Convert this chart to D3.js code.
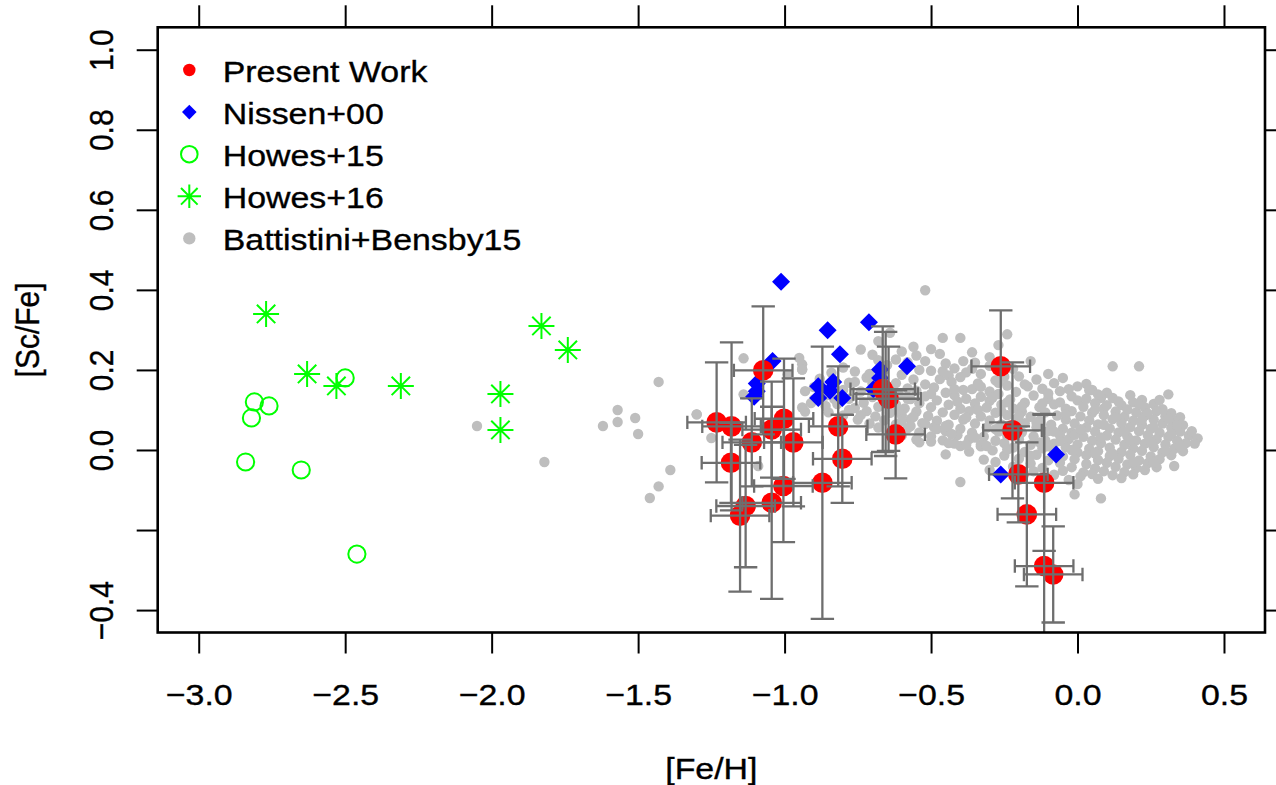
<!DOCTYPE html>
<html><head><meta charset="utf-8">
<script src="https://cdn.jsdelivr.net/npm/d3@7"></script>
<style>
body{margin:0;background:#fff}
svg{display:block}
text{font-family:"Liberation Sans",Arial,Helvetica,sans-serif;fill:#000}
</style></head>
<body><svg id="c" width="1276" height="785"></svg>
<script>
// ---------------- data ----------------
const xTicks = [-3.0, -2.5, -2.0, -1.5, -1.0, -0.5, 0.0, 0.5];
const yTicks = [-0.4, -0.2, 0.0, 0.2, 0.4, 0.6, 0.8, 1.0];
const yTickLabels = ["\u22120.4", "", "0.0", "0.2", "0.4", "0.6", "0.8", "1.0"];
const legendLabels = ["Present Work", "Nissen+00", "Howes+15", "Howes+16", "Battistini+Bensby15"];

const presentFeH   = [-1.232,-1.181,-1.183,-1.112,-1.073,-1.044,-1.002,-0.970,-1.004,-1.044,-1.133,-1.152,-0.871,-0.817,-0.803,-0.665,-0.655,-0.645,-0.621,-0.262,-0.222,-0.202,-0.114,-0.173,-0.114,-0.083];
const presentScFe  = [0.069,0.059,-0.032,0.019,0.199,0.051,0.078,0.019,-0.090,-0.132,-0.140,-0.164,-0.082,0.059,-0.022,0.152,0.140,0.128,0.039,0.209,0.049,-0.061,-0.082,-0.161,-0.290,-0.311];
const presentFeHErr  = [0.10,0.10,0.10,0.10,0.10,0.10,0.10,0.10,0.10,0.10,0.10,0.10,0.10,0.10,0.10,0.11,0.11,0.11,0.10,0.10,0.10,0.10,0.10,0.10,0.10,0.10];
const presentScFeErr = [0.15,0.21,0.10,0.11,0.16,0.12,0.15,0.16,0.14,0.24,0.153,0.19,0.34,0.15,0.11,0.157,0.155,0.13,0.11,0.14,0.17,0.12,0.17,0.18,0.38,0.12];

const nissenFeH  = [-1.012,-1.041,-1.095,-1.095,-1.104,-0.853,-0.811,-0.712,-0.582,-0.885,-0.885,-0.834,-0.845,-0.803,-0.674,-0.674,-0.697,-0.262,-0.073];
const nissenScFe = [0.420,0.222,0.166,0.147,0.133,0.299,0.239,0.319,0.209,0.159,0.130,0.170,0.148,0.130,0.201,0.180,0.152,-0.061,-0.011];

const howes15FeH  = [-2.50,-2.81,-2.76,-2.82,-2.84,-2.65,-2.46];
const howes15ScFe = [0.18,0.12,0.11,0.08,-0.03,-0.05,-0.26];

const howes16FeH  = [-2.77,-2.63,-2.53,-2.31,-1.97,-1.97,-1.83,-1.74];
const howes16ScFe = [0.34,0.19,0.16,0.16,0.14,0.05,0.31,0.25];

// Battistini + Bensby 2015 sample: [Fe/H], [Sc/Fe]
const bensbyPoints = [
[-0.64,0.293],[-0.24,0.289],[-0.52,0.399],
[-0.68,0.272],[-0.46,0.280],[-0.40,0.280],[-0.27,0.262],
[-0.74,0.251],[-0.56,0.258],[-0.60,0.246],[-0.50,0.252],
[-0.47,0.240],[-0.55,0.236],[-0.70,0.238],[-0.36,0.244],
[-0.95,0.230],[-1.14,0.229],[-0.62,0.226],[-0.39,0.222],[-0.16,0.222],[-0.30,0.232],
[-0.94,0.214],[-0.35,0.218],[-0.58,0.219],[-0.45,0.216],[-0.52,0.222],[-0.68,0.224],
[0.12,0.209],[0.21,0.209],[-0.80,0.206],[-0.42,0.204],[-0.30,0.210],[-0.22,0.203],
[-0.94,0.201],[-0.76,0.196],[-0.66,0.200],[-0.50,0.198],[-0.38,0.194],[-0.26,0.199],
[-0.84,0.193],[-0.99,0.189],[-0.60,0.188],[-0.44,0.186],[-0.33,0.190],[-0.20,0.184],[-0.10,0.190],
[-0.88,0.178],[-0.72,0.181],[-0.56,0.176],[-0.47,0.177],[-0.40,0.182],[-0.14,0.176],[-0.05,0.180],[-0.28,0.174],
[-1.43,0.170],[-0.78,0.168],[-0.62,0.167],[-0.52,0.164],[-0.43,0.170],[-0.34,0.166],[-0.08,0.167],[0.03,0.165],[-0.24,0.161],
[-0.90,0.157],[-0.69,0.158],[-0.58,0.154],[-0.49,0.156],[-0.36,0.152],[-0.17,0.159],[0.00,0.159],[-0.12,0.153],[0.05,0.150],
[-0.93,0.147],[-0.74,0.146],[-0.64,0.144],[-0.55,0.148],[-0.45,0.143],[-0.39,0.150],[-0.30,0.146],[-0.21,0.145],[0.04,0.149],[0.10,0.143],[-0.06,0.147],
[-1.14,0.139],[-0.86,0.136],[-0.70,0.135],[-0.61,0.138],[-0.52,0.134],[-0.42,0.137],[-0.33,0.133],[-0.27,0.140],[-0.15,0.136],[-0.02,0.134],[0.31,0.139],[0.08,0.130],[0.18,0.137],
[-0.90,0.126],[-0.78,0.128],[-0.66,0.125],[-0.57,0.127],[-0.48,0.124],[-0.38,0.128],[-0.30,0.123],[-0.23,0.126],[-0.10,0.128],[0.00,0.124],[0.12,0.130],[0.22,0.125],
[-0.91,0.117],[-0.82,0.115],[-0.73,0.118],[-0.62,0.114],[-0.54,0.117],[-0.44,0.113],[-0.35,0.116],[-0.26,0.113],[-0.18,0.118],[-0.08,0.114],[0.06,0.117],[0.19,0.119],[0.15,0.112],[0.26,0.115],
[-0.94,0.106],[-0.76,0.105],[-0.68,0.108],[-0.59,0.104],[-0.50,0.107],[-0.40,0.103],[-0.31,0.106],[-0.22,0.104],[-0.13,0.107],[-0.04,0.103],[0.02,0.108],[0.09,0.104],[0.23,0.106],[0.29,0.102],
[-1.57,0.100],[-0.93,0.096],[-0.85,0.094],[-0.72,0.097],[-0.64,0.093],[-0.55,0.096],[-0.46,0.094],[-0.37,0.097],[-0.28,0.093],[-0.19,0.096],[-0.11,0.094],[-0.02,0.097],[0.05,0.093],[0.13,0.096],[0.20,0.094],[0.27,0.097],[0.32,0.092],
[-1.30,0.089],[-0.80,0.086],[-0.69,0.084],[-0.60,0.087],[-0.51,0.085],[-0.42,0.088],[-0.33,0.084],[-0.24,0.087],[-0.16,0.083],[-0.07,0.086],[0.01,0.084],[0.09,0.087],[0.16,0.083],[0.23,0.086],[0.30,0.084],[0.35,0.082],
[-1.51,0.080],[-0.75,0.076],[-0.66,0.074],[-0.57,0.077],[-0.48,0.073],[-0.39,0.076],[-0.30,0.074],[-0.21,0.077],[-0.13,0.073],[-0.04,0.076],[0.04,0.074],[0.12,0.077],[0.19,0.073],[0.26,0.076],[0.33,0.072],
[-1.57,0.070],[-0.71,0.066],[-0.62,0.064],[-0.53,0.067],[-0.44,0.063],[-0.35,0.066],[-0.26,0.064],[-0.18,0.067],[-0.09,0.063],[-0.01,0.066],[0.07,0.064],[0.15,0.067],[0.22,0.063],[0.29,0.066],[0.36,0.062],
[-2.05,0.060],[-1.62,0.060],[-0.68,0.056],[-0.58,0.054],[-0.49,0.057],[-0.40,0.053],[-0.31,0.056],[-0.23,0.054],[-0.14,0.057],[-0.05,0.053],[0.03,0.056],[0.11,0.054],[0.18,0.057],[0.25,0.053],[0.32,0.056],
[-0.63,0.046],[-0.54,0.044],[-0.45,0.047],[-0.36,0.043],[-0.27,0.046],[-0.19,0.044],[-0.10,0.047],[-0.02,0.043],[0.06,0.046],[0.14,0.044],[0.21,0.047],[0.28,0.043],[0.35,0.046],
[-1.50,0.040],[-0.60,0.036],[-0.50,0.034],[-0.41,0.037],[-0.32,0.033],[-0.24,0.036],[-0.15,0.034],[-0.06,0.037],[0.02,0.033],[0.10,0.036],[0.17,0.034],[0.24,0.037],[0.31,0.033],[0.38,0.036],
[-1.25,0.030],[-0.55,0.026],[-0.46,0.024],[-0.37,0.027],[-0.28,0.023],[-0.20,0.026],[-0.11,0.024],[-0.03,0.027],[0.05,0.023],[0.13,0.026],[0.20,0.024],[0.27,0.027],[0.34,0.023],[0.41,0.029],
[-0.54,0.019],[-0.42,0.016],[-0.33,0.014],[-0.25,0.017],[-0.16,0.013],[-0.08,0.016],[0.00,0.014],[0.08,0.017],[0.16,0.013],[0.23,0.016],[0.30,0.014],[0.37,0.017],
[-0.44,0.017],[-0.33,0.009],[-0.22,0.006],[-0.12,0.004],[-0.04,0.007],[0.04,0.003],[0.11,0.006],[0.19,0.004],[0.26,0.007],[0.33,0.003],[-0.40,0.010],
[-0.37,-0.004],[-0.29,-0.001],[-0.18,-0.005],[-0.08,-0.002],[0.00,-0.006],[0.07,-0.003],[0.15,-0.005],[0.22,-0.002],[0.29,-0.006],[0.36,-0.003],
[-0.45,-0.011],[-0.25,-0.014],[-0.14,-0.012],[-0.05,-0.016],[0.03,-0.013],[0.11,-0.015],[0.18,-0.012],[0.25,-0.016],[0.32,-0.013],
[-0.32,-0.024],[-0.20,-0.022],[-0.10,-0.026],[-0.01,-0.023],[0.07,-0.025],[0.14,-0.022],[0.21,-0.026],[0.28,-0.023],
[-1.82,-0.030],[-0.28,-0.030],[-0.16,-0.034],[-0.06,-0.032],[0.03,-0.035],[0.10,-0.032],[0.17,-0.036],[0.24,-0.033],[0.33,-0.040],
[-0.22,-0.042],[-0.12,-0.045],[-0.02,-0.043],[0.06,-0.046],[0.13,-0.042],[0.20,-0.045],[0.27,-0.043],
[-1.39,-0.050],[-0.30,-0.050],[-0.15,-0.053],[-0.05,-0.052],[0.02,-0.056],[0.09,-0.053],[0.16,-0.055],[0.23,-0.050],
[-0.20,-0.060],[-0.08,-0.062],[0.01,-0.066],[0.05,-0.060],[0.12,-0.063],[0.19,-0.061],
[-0.11,-0.072],[-0.03,-0.075],[0.07,-0.072],[0.15,-0.070],[-0.40,-0.080],[0.00,-0.085],
[-1.43,-0.091],[-0.01,-0.111],[-1.46,-0.120],[0.08,-0.121],[-1.09,-0.040],[-1.30,0.089],[-0.94,0.201],
[-0.41,0.121],[-0.29,0.131],[-0.19,0.109],[-0.06,0.119],[0.03,0.128],[0.10,0.112],[0.17,0.101],[0.24,0.091],[0.31,0.078],[0.34,0.061],
[0.39,0.047],[0.40,0.016],[0.35,0.010],[0.30,-0.002],[0.26,-0.030],[0.19,-0.030],[0.12,-0.009],[0.06,-0.009],[-0.02,0.000],[-0.10,0.009],
[-0.16,-0.014],[-0.24,0.001],[-0.31,0.010],[-0.35,0.031],[-0.43,0.040],[-0.48,0.052],[-0.52,0.065],[-0.56,0.083],[-0.61,0.100],[-0.66,0.116],
[-0.70,0.132],[-0.74,0.087],[-0.78,0.100],[-0.83,0.127],[-0.86,0.110],[-0.80,0.150],[-0.76,0.170],[-0.71,0.190],[-0.65,0.212],[-0.54,0.200],
[-0.46,0.197],[-0.36,0.203],[-0.25,0.183],[-0.18,0.164],[-0.10,0.141],[-0.03,0.152],[0.07,0.139],[0.14,0.121],[0.21,0.114],[0.28,0.125],
[-0.45,0.060],[-0.38,0.081],[-0.34,0.100],[-0.26,0.097],[-0.20,0.085],[-0.14,0.068],[-0.08,0.046],[-0.01,0.038],[0.08,0.031],[0.16,0.047],
[0.22,0.076],[0.26,0.057],[0.13,0.082],[0.06,0.101],[-0.04,0.089],[-0.12,0.116],[-0.24,0.119],[-0.28,0.052],[-0.20,0.036],[-0.13,0.019],
[-0.06,0.022],[0.01,0.052],[0.09,0.063],[0.18,0.025],[0.25,0.020],[0.32,0.040],[-0.38,0.013],[-0.50,0.021],[-0.57,0.060],[-0.60,0.072],
[-0.42,0.152],[-0.33,0.158],[-0.27,0.168],[-0.50,0.140],[-0.58,0.128],[-0.64,0.157],[-0.70,0.166]
];

// ---------------- drawing ----------------
const SX = 1.13;          // horizontal text stretch of the original rendering
const FS = 30;            // font size
const svg = d3.select("#c");

const x = d3.scaleLinear().domain([-3.14, 0.64]).range([157.7, 1265]);
const y = d3.scaleLinear().domain([-0.456, 1.056]).range([632.5, 27.3]);
const [px0, px1] = x.range(), [py1, py0] = y.range();

svg.append("defs").append("clipPath").attr("id", "clip")
  .append("rect").attr("x", px0).attr("y", py0).attr("width", px1 - px0).attr("height", py1 - py0);

const plot = svg.append("g").attr("clip-path", "url(#clip)");

const diamond = s => `M0,${-s}L${s},0L0,${s}L${-s},0Z`;
const star = (a, b) => `M${-a},0H${a}M0,${-a}V${a}M${-b},${-b}L${b},${b}M${-b},${b}L${b},${-b}`;

// Battistini + Bensby (grey)
plot.append("g").selectAll("circle").data(bensbyPoints).join("circle")
  .attr("cx", d => x(d[0])).attr("cy", d => y(d[1])).attr("r", 5.2).attr("fill", "#bebebe");

// Nissen+00
plot.append("g").selectAll("path").data(nissenFeH.map((v, i) => [v, nissenScFe[i]])).join("path")
  .attr("transform", d => `translate(${x(d[0])},${y(d[1])})`).attr("d", diamond(9)).attr("fill", "#0000ff");

// Present work
const present = presentFeH.map((v, i) => ({x: v, y: presentScFe[i], ex: presentFeHErr[i], ey: presentScFeErr[i]}));
plot.append("g").selectAll("circle").data(present).join("circle")
  .attr("cx", d => x(d.x)).attr("cy", d => y(d.y)).attr("r", 10.3).attr("fill", "#ff0000");

// error bars
const eb = plot.append("g").attr("stroke", "#6e6e6e").attr("stroke-width", 2.3).attr("fill", "none");
present.forEach(d => {
  const cx = x(d.x), cy = y(d.y);
  const yt = y(d.y + d.ey), yb = y(d.y - d.ey);
  const xl = x(d.x - d.ex), xr = x(d.x + d.ex);
  const capV = 11.7, capH = 6.7;
  eb.append("path").attr("d",
    `M${cx},${yt}V${yb}M${cx - capV},${yt}H${cx + capV}M${cx - capV},${yb}H${cx + capV}` +
    `M${xl},${cy}H${xr}M${xl},${cy - capH}V${cy + capH}M${xr},${cy - capH}V${cy + capH}`);
});

// Howes+15
plot.append("g").selectAll("circle").data(howes15FeH.map((v, i) => [v, howes15ScFe[i]])).join("circle")
  .attr("cx", d => x(d[0])).attr("cy", d => y(d[1])).attr("r", 8.6)
  .attr("fill", "none").attr("stroke", "#00ff00").attr("stroke-width", 2);

// Howes+16
plot.append("g").selectAll("path").data(howes16FeH.map((v, i) => [v, howes16ScFe[i]])).join("path")
  .attr("transform", d => `translate(${x(d[0])},${y(d[1])})`).attr("d", star(13, 9.2))
  .attr("fill", "none").attr("stroke", "#00ff00").attr("stroke-width", 2);

// ---------------- axes ----------------
const fmt = d3.format(".1f");
const TXT = g => g.attr("font-size", FS).attr("font-family", '"Liberation Sans",Arial,sans-serif')
  .attr("fill", "#000").attr("stroke", "#000").attr("stroke-width", 0.35);
function styleAxis(g) {
  g.select(".domain").remove();
  g.selectAll(".tick line").attr("stroke", "#000").attr("stroke-width", 2);
}
const gb = svg.append("g").attr("transform", `translate(0,${py1})`)
  .call(d3.axisBottom(x).tickValues(xTicks).tickSize(21).tickFormat(fmt));
styleAxis(gb);
gb.selectAll(".tick text").attr("y", 0).attr("dy", 0).call(TXT)
  .attr("transform", `translate(0,${705 - py1}) scale(${SX},1)`);

const gl = svg.append("g").attr("transform", `translate(${px0},0)`)
  .call(d3.axisLeft(y).tickValues(yTicks).tickSize(21).tickFormat((d, i) => yTickLabels[i]));
styleAxis(gl);
gl.selectAll(".tick text").attr("x", 0).attr("dy", 0).attr("text-anchor", "middle").call(TXT)
  .attr("transform", `translate(${113 - px0},0) scale(${SX},1) rotate(-90)`);

const gt = svg.append("g").attr("transform", `translate(0,${py0})`)
  .call(d3.axisTop(x).tickValues(xTicks).tickSize(22).tickFormat(""));
styleAxis(gt);
const gr = svg.append("g").attr("transform", `translate(${px1},0)`)
  .call(d3.axisRight(y).tickValues(yTicks).tickSize(21).tickFormat(""));
styleAxis(gr);

svg.append("rect").attr("x", px0).attr("y", py0).attr("width", px1 - px0).attr("height", py1 - py0)
  .attr("fill", "none").attr("stroke", "#000").attr("stroke-width", 2.6);

// titles
svg.append("text").attr("transform", `translate(${(px0 + px1) / 2},779) scale(${SX},1)`)
  .attr("text-anchor", "middle").call(TXT).text("[Fe/H]");
svg.append("text").attr("transform", `translate(38.5,${(py0 + py1) / 2}) scale(${SX},1) rotate(-90)`)
  .attr("text-anchor", "middle").call(TXT).text("[Sc/Fe]");

// ---------------- legend ----------------
const lg = svg.append("g");
const mx = 189.3, my0 = 70, dy = 42.1;
lg.append("circle").attr("cx", mx).attr("cy", my0).attr("r", 6.2).attr("fill", "#ff0000");
lg.append("path").attr("transform", `translate(${mx},${my0 + dy})`).attr("d", diamond(7.3)).attr("fill", "#0000ff");
lg.append("circle").attr("cx", mx).attr("cy", my0 + 2 * dy).attr("r", 8.3)
  .attr("fill", "none").attr("stroke", "#00ff00").attr("stroke-width", 2);
lg.append("path").attr("transform", `translate(${mx},${my0 + 3 * dy})`).attr("d", star(11.7, 8.3))
  .attr("fill", "none").attr("stroke", "#00ff00").attr("stroke-width", 2);
lg.append("circle").attr("cx", mx).attr("cy", my0 + 4 * dy).attr("r", 6.2).attr("fill", "#bebebe");
legendLabels.forEach((t, i) => {
  lg.append("text").attr("transform", `translate(222.7,${81.7 + i * dy}) scale(${SX},1)`)
    .call(TXT).text(t);
});
</script>
</body></html>
